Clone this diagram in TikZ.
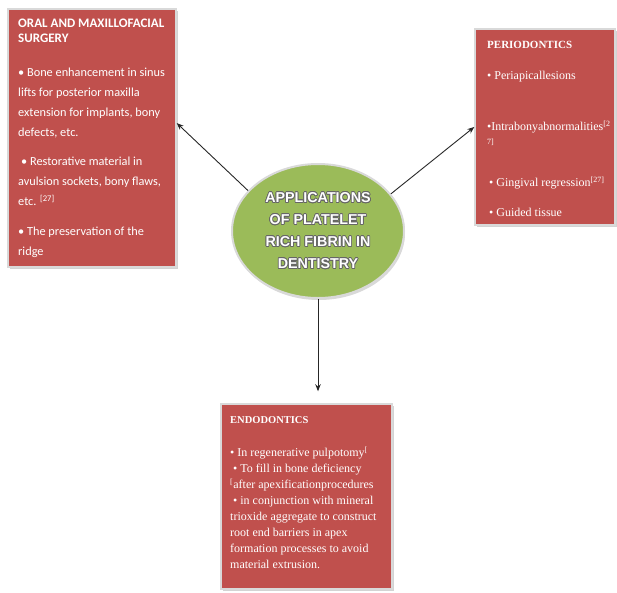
\documentclass[tikz,border=0pt]{standalone}
\usepackage{fontspec}
\setmainfont{Liberation Serif}
\newfontfamily\calibrifont{Carlito}
\newfontfamily\hubfont{Liberation Sans}
\usepackage{contour}
\contourlength{0.7pt}
\usetikzlibrary{arrows.meta,positioning,shapes.geometric,shadows}
\definecolor{boxred}{HTML}{C0504D}
\definecolor{hubgreen}{HTML}{9BBB59}

\begin{document}
\begin{tikzpicture}[
    x=1pt, y=-1pt,
    box/.style={draw=black!15, fill=boxred, line width=1.5pt, inner sep=0pt, drop shadow={shadow xshift=1.5pt, shadow yshift=-1.5pt, opacity=0.35}},
    boxtext/.style={anchor=north west, inner sep=0pt, align=left, text=white},
    hub/.style={ellipse, draw=black!15, fill=hubgreen, line width=2pt, inner sep=0pt, minimum width=172pt, minimum height=134pt, align=center, text=white, font=\hubfont\bfseries\fontsize{14.3}{22}\selectfont, drop shadow={shadow xshift=1pt, shadow yshift=-2pt, opacity=0.3}},
    arrow/.style={-{Stealth[length=7pt,width=5.5pt]}, line width=0.9pt, draw=black!85}
]
    \useasboundingbox (0,0) rectangle (617,592);

    % Boxes
    \node[box, minimum width=168pt, minimum height=258pt] (oms) at (92,138) {};
    \node[box, minimum width=140pt, minimum height=196pt] (perio) at (545,127) {};
    \node[box, minimum width=171pt, minimum height=185pt] (endo) at (306.5,496.5) {};

    % Centre
    \node[hub] (prf) at (318,231) {\contour{black!60}{APPLICATIONS}\\\contour{black!60}{OF PLATELET}\\\contour{black!60}{RICH FIBRIN IN}\\\contour{black!60}{DENTISTRY}};

    % Box texts
    \node[boxtext, font=\calibrifont\fontsize{12.3}{20}\selectfont] (omstext) at (18,19) {{\fontsize{13}{20}\selectfont\textbf{ORAL AND MAXILLOFACIAL}}\\[-5pt]{\fontsize{13}{20}\selectfont\textbf{SURGERY}}\\[14pt]• Bone enhancement in sinus\\lifts for posterior maxilla\\extension for implants, bony\\defects, etc.\\[9pt]\hspace*{3pt}• Restorative material in\\avulsion sockets, bony flaws,\\etc. \textsuperscript{[27]}\\[10pt]• The preservation of the\\ridge};
    \node[boxtext, font=\fontsize{12}{14}\selectfont] (periotext) at (487,41.3) {{\fontsize{11}{14}\selectfont\textbf{PERIODONTICS}}\\[16.8pt]• Periapicallesions\\[37pt]•Intrabonyabnormalities\textsuperscript{[2}\\[4.5pt]\textsuperscript{7]}\\[23.5pt]\hspace*{2pt}• Gingival regression\textsuperscript{[27]}\\[16pt]\hspace*{2pt}• Guided tissue};
    \node[boxtext, font=\fontsize{12}{16}\selectfont] (endotext) at (230,415.9) {{\fontsize{10.5}{16}\selectfont\textbf{ENDODONTICS}}\\[17.5pt]• In regenerative pulpotomy\textsuperscript{[}\\\hspace*{3pt}• To fill in bone deficiency\\\textsuperscript{[}after apexificationprocedures\\\hspace*{3pt}• in conjunction with mineral\\trioxide aggregate to construct\\root end barriers in apex\\formation processes to avoid\\material extrusion.};

    % Arrows
    \draw[arrow] (prf.150) -- (oms.10);
    \draw[arrow] (prf.27) -- (perio.west);
    \draw[arrow, shorten >=12pt] (prf.south) -- (prf.south |- endo.north);

\end{tikzpicture}
\end{document}
